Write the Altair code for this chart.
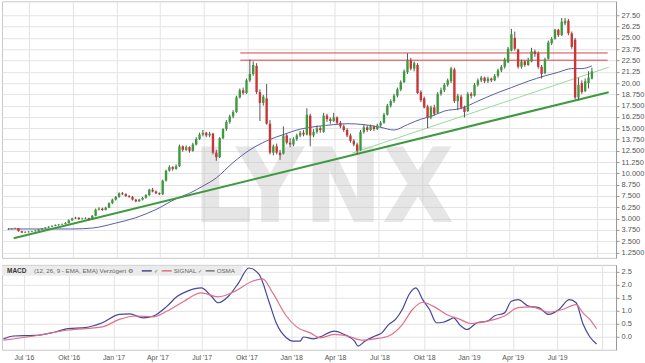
import altair as alt
import pandas as pd

# ---------------- data (weekly candles) ----------------
first_week = "2016-05-20"

open_ = [3.8, 3.85, 3.9, 3.95, 3.6, 3.45, 3.5, 3.55, 3.6, 3.65,
         3.8, 3.9, 4.0, 4.1, 4.2, 4.3, 4.35, 4.4, 4.5, 4.8,
         5.0, 5.1, 4.95, 5.0, 5.05, 4.9, 5.3, 6.0, 6.1, 5.95,
         6.2, 6.7, 7.1, 7.4, 7.8, 7.7, 7.5, 7.4, 7.1, 6.9,
         7.1, 7.3, 7.6, 8.2, 8.0, 7.8, 7.7, 9.2, 10.3, 10.7,
         10.5, 10.8, 13.0, 12.6, 12.9, 12.5, 13.2, 13.8, 14.3, 14.5,
         14.2, 14.4, 12.3, 11.8, 13.9, 14.9, 15.7, 16.3, 16.8, 18.4,
         19.2, 18.9, 20.3, 21.0, 21.9, 19.0, 17.8, 18.3, 15.5, 12.3,
         13.0, 12.3, 12.2, 14.2, 13.4, 13.2, 13.8, 14.2, 14.5, 14.3,
         16.4, 14.2, 14.6, 15.0, 14.6, 16.4, 16.0, 15.8, 16.2, 15.6,
         15.2, 14.8, 14.2, 13.6, 13.2, 12.6, 14.6, 15.1, 14.8, 15.2,
         14.9, 15.3, 15.6, 16.5, 17.5, 18.0, 18.6, 19.3, 20.1, 21.2,
         22.5, 21.6, 22.0, 19.0, 18.3, 17.4, 16.2, 17.3, 16.7, 18.8,
         19.2, 19.8, 20.2, 21.5, 18.0, 18.5, 17.3, 16.9, 18.8, 18.6,
         19.8, 20.3, 20.6, 20.2, 20.5, 20.3, 20.8, 21.4, 21.8, 22.3,
         23.6, 25.0, 23.7, 21.8, 22.4, 22.0, 22.4, 23.5, 23.3, 21.8,
         21.1, 22.7, 24.4, 24.9, 25.9, 25.3, 26.6, 26.9, 25.5, 24.8,
         18.4, 20.0, 19.1, 20.0, 20.5]

high = [3.95, 3.95, 4.0, 3.95, 3.65, 3.6, 3.6, 3.65, 3.75, 3.85,
        3.95, 4.05, 4.15, 4.25, 4.35, 4.4, 4.45, 4.6, 4.9, 5.1,
        5.2, 5.15, 5.1, 5.15, 5.1, 5.4, 6.1, 6.25, 6.2, 6.3,
        6.8, 7.2, 7.5, 7.9, 7.95, 7.8, 7.6, 7.5, 7.2, 7.2,
        7.4, 7.7, 8.3, 8.4, 8.1, 7.9, 9.3, 10.4, 10.9, 10.8,
        11.0, 13.2, 13.1, 13.1, 13.0, 13.4, 14.0, 14.5, 14.8, 14.6,
        14.6, 14.5, 12.6, 14.0, 15.0, 15.9, 16.5, 17.0, 18.6, 19.4,
        19.5, 20.5, 22.6, 22.4, 22.2, 19.3, 18.7, 19.9, 15.9, 13.2,
        13.3, 12.6, 15.2, 14.4, 13.9, 14.0, 14.4, 14.7, 14.8, 17.2,
        16.6, 14.9, 15.3, 15.2, 16.7, 16.6, 16.2, 16.7, 16.3, 15.8,
        15.4, 15.0, 14.4, 13.8, 13.4, 14.8, 15.4, 15.3, 15.4, 15.3,
        15.5, 15.8, 16.7, 17.7, 18.2, 18.8, 19.5, 20.3, 21.5, 23.3,
        22.8, 22.4, 22.2, 19.2, 18.5, 17.6, 17.5, 17.6, 19.0, 19.5,
        20.0, 20.5, 21.8, 21.7, 18.8, 18.7, 17.5, 19.0, 19.0, 20.0,
        20.5, 20.8, 20.7, 20.7, 20.6, 21.0, 21.6, 22.0, 22.8, 24.0,
        26.0, 25.7, 23.8, 22.6, 22.5, 22.8, 23.9, 23.7, 23.5, 22.0,
        22.8, 24.7, 25.1, 26.0, 26.0, 27.2, 27.2, 27.1, 25.7, 25.0,
        20.6, 20.3, 20.5, 21.3, 21.7]

low = [3.75, 3.8, 3.85, 3.55, 3.4, 3.4, 3.45, 3.5, 3.55, 3.6,
       3.75, 3.85, 3.95, 4.05, 4.15, 4.2, 4.3, 4.35, 4.45, 4.75,
       4.95, 4.85, 4.9, 4.95, 4.8, 4.85, 5.25, 5.9, 5.85, 5.9,
       6.15, 6.6, 7.0, 7.3, 7.6, 7.4, 7.3, 7.0, 6.8, 6.85,
       7.0, 7.2, 7.5, 7.9, 7.7, 7.6, 7.6, 9.1, 10.2, 10.3,
       10.4, 10.7, 12.4, 12.5, 12.3, 12.4, 13.1, 13.7, 14.1, 14.0,
       14.0, 12.1, 11.4, 11.7, 13.8, 14.7, 15.5, 16.1, 16.7, 18.3,
       18.7, 18.8, 20.1, 20.8, 18.8, 15.8, 17.5, 15.4, 12.1, 12.0,
       12.1, 11.5, 12.1, 13.2, 12.9, 13.0, 13.6, 14.0, 14.1, 14.2,
       13.0, 14.0, 14.4, 14.5, 14.5, 15.7, 15.5, 15.7, 15.4, 15.0,
       14.6, 14.0, 13.4, 13.0, 12.1, 12.5, 14.4, 14.6, 14.7, 14.7,
       14.8, 15.1, 15.5, 16.4, 17.3, 17.8, 18.4, 19.1, 20.0, 21.0,
       21.4, 21.3, 18.8, 17.9, 17.2, 15.0, 16.0, 16.4, 16.6, 18.6,
       19.0, 19.6, 20.0, 17.8, 17.0, 17.1, 16.2, 16.8, 18.3, 18.5,
       19.6, 20.1, 20.0, 20.0, 20.1, 20.2, 20.6, 21.2, 21.6, 22.2,
       23.5, 23.6, 21.6, 21.6, 21.8, 21.9, 22.3, 22.9, 21.6, 20.5,
       21.0, 22.6, 24.2, 24.8, 25.1, 25.2, 26.4, 25.3, 23.8, 18.2,
       18.1, 18.8, 19.0, 19.4, 20.4]

close = [3.85, 3.9, 3.95, 3.6, 3.45, 3.5, 3.55, 3.6, 3.65, 3.8,
         3.9, 4.0, 4.1, 4.2, 4.3, 4.35, 4.4, 4.5, 4.8, 5.0,
         5.1, 4.95, 5.0, 5.05, 4.9, 5.3, 6.0, 6.1, 5.95, 6.2,
         6.7, 7.1, 7.4, 7.8, 7.7, 7.5, 7.4, 7.1, 6.9, 7.1,
         7.3, 7.6, 8.2, 8.0, 7.8, 7.7, 9.2, 10.3, 10.7, 10.5,
         10.8, 13.0, 12.6, 12.9, 12.5, 13.2, 13.8, 14.3, 14.5, 14.2,
         14.4, 12.3, 11.8, 13.9, 14.9, 15.7, 16.3, 16.8, 18.4, 19.2,
         18.9, 20.3, 21.0, 22.0, 19.0, 17.8, 18.5, 15.5, 12.3, 13.0,
         12.3, 12.0, 14.2, 13.4, 13.2, 13.8, 14.2, 14.5, 14.3, 16.5,
         14.2, 14.6, 15.0, 14.8, 16.4, 16.0, 15.8, 16.2, 15.6, 15.2,
         14.8, 14.2, 13.6, 13.2, 12.5, 14.6, 15.1, 14.8, 15.2, 14.9,
         15.3, 15.6, 16.5, 17.5, 18.0, 18.6, 19.3, 20.1, 21.3, 22.5,
         21.6, 22.2, 18.9, 18.1, 17.3, 16.2, 17.3, 16.6, 18.8, 19.2,
         19.8, 20.3, 21.6, 18.0, 18.6, 17.3, 16.8, 18.8, 18.6, 19.8,
         20.3, 20.6, 20.2, 20.5, 20.3, 20.8, 21.4, 21.8, 22.6, 23.8,
         25.4, 23.8, 21.8, 22.4, 22.0, 22.5, 23.5, 23.2, 21.8, 21.0,
         22.6, 24.5, 24.9, 25.9, 25.3, 26.8, 26.9, 25.5, 24.0, 18.4,
         19.8, 19.0, 20.2, 20.6, 21.3]

# moving average (blue) : candle index -> value
ma_idx = [0, 19, 25, 32, 38, 44, 50, 54, 58, 62, 67, 72, 77, 82, 87, 92, 97, 101,
          106, 111, 115, 119, 123, 126, 130, 135, 140, 145, 150, 155, 160, 164, 168, 171, 174]
ma_val = [3.85, 3.85, 3.95, 4.5, 5.1, 6.0, 7.2, 7.8, 8.6, 9.5, 11.2, 12.6, 13.6, 14.3, 14.9,
          15.2, 15.4, 15.5, 15.4, 15.1, 14.8, 15.4, 16.0, 16.3, 16.9, 17.2, 18.0, 18.8, 19.5,
          20.2, 20.8, 21.2, 21.6, 21.6, 21.9]

# trend lines and resistance lines (start/end)
trend_thick_dates = ["2016-05-31", "2019-10-25"]
trend_thick_vals = [2.83, 18.99]
trend_thin_dates = ["2018-05-08", "2019-10-25"]
trend_thin_vals = [12.25, 21.75]
resist_dates = ["2017-09-16", "2019-10-23"]
resist_upper = 23.33
resist_lower = 22.53

# MACD (blue) and signal (red): candle index -> value
macd_idx = [0, 3, 9, 14, 19, 24, 29, 34, 37, 41, 44, 48, 51, 54, 58, 61, 63, 66, 69, 72,
            75, 78, 80, 83, 85, 87, 88, 91, 93, 96, 97, 100, 103, 104, 106, 109, 111, 113, 115, 117,
            119, 121, 123, 125, 127, 129, 131, 132, 134, 136, 139, 142, 144, 147, 149, 151, 154, 157, 160, 163,
            166, 168, 170, 172, 174]
macd_val = [-0.08, 0.03, 0.05, 0.15, 0.31, 0.35, 0.54, 0.86, 0.88, 0.73, 0.8, 1.18, 1.56, 1.76, 1.88, 1.56, 1.31, 1.56, 2.08, 2.65,
            2.4, 1.31, 0.54, -0.04, -0.17, -0.17, -0.01, -0.08, 0.0, 0.19, 0.22, 0.09, -0.17, -0.36, -0.17, 0.03, 0.15, 0.47, 0.67, 1.05,
            1.63, 1.88, 1.43, 1.05, 0.54, 0.56, 0.67, 0.73, 0.44, 0.28, 0.54, 0.6, 0.8, 0.92, 1.37, 1.43, 1.18, 1.12, 0.86, 1.05,
            1.43, 1.31, 0.5, 0.0, -0.28]
sig_idx = [0, 9, 19, 29, 34, 39, 44, 48, 53, 58, 63, 68, 73, 76, 79, 83, 86, 90, 93, 97,
           101, 105, 109, 113, 117, 120, 123, 126, 130, 134, 137, 142, 147, 151, 155, 160, 164, 168, 170, 172, 174]
sig_val = [-0.13, 0.03, 0.26, 0.38, 0.67, 0.8, 0.77, 0.99, 1.37, 1.69, 1.54, 1.76, 2.14, 2.23, 1.69, 0.8, 0.38, 0.15, -0.04, 0.09,
           0.03, -0.13, -0.08, 0.03, 0.47, 1.05, 1.33, 1.18, 0.86, 0.67, 0.51, 0.6, 0.8, 1.12, 1.15, 0.95, 1.05, 1.24, 0.92, 0.67, 0.31]

# axis ticks
quarter_ticks = ["2016-07-01", "2016-10-01", "2017-01-01", "2017-04-01", "2017-07-01",
                 "2017-10-01", "2018-01-01", "2018-04-01", "2018-07-01", "2018-10-01",
                 "2019-01-01", "2019-04-01", "2019-07-01", "2019-10-01"]
price_ticks = [1.25, 2.5, 3.75, 5.0, 6.25, 7.5, 8.75, 10.0, 11.25, 12.5, 13.75, 15.0,
               16.25, 17.5, 18.75, 20.0, 21.25, 22.5, 23.75, 25.0, 26.25, 27.5]
macd_ticks = [0.0, 0.5, 1.0, 1.5, 2.0, 2.5]

# ---------------- frames ----------------
weeks = pd.date_range(first_week, periods=len(close), freq="7D")
candles = pd.DataFrame({"date": weeks, "open": open_, "high": high, "low": low, "close": close})
ma_df = pd.DataFrame({"date": weeks[ma_idx], "value": ma_val})
thick_df = pd.DataFrame({"date": pd.to_datetime(trend_thick_dates), "value": trend_thick_vals})
thin_df = pd.DataFrame({"date": pd.to_datetime(trend_thin_dates), "value": trend_thin_vals})
res_df = pd.DataFrame({
    "date": list(pd.to_datetime(resist_dates)) * 2,
    "value": [resist_upper, resist_upper, resist_lower, resist_lower],
    "line": ["u", "u", "l", "l"],
})
macd_df = pd.DataFrame({"date": weeks[macd_idx], "value": macd_val})
sig_df = pd.DataFrame({"date": weeks[sig_idx], "value": sig_val})
one = pd.DataFrame({"t": ["LYNX"]})


def dt(s):
    y, m, d = s.split("-")
    return alt.DateTime(year=int(y), month=int(m), date=int(d))


x_scale = alt.Scale(domain=[dt("2016-05-17"), dt("2019-10-30")])
q_vals = [dt(s) for s in quarter_ticks]
GRID = "#e3e3e3"
FONT = "Liberation Sans"

x_top = alt.X("date:T", scale=x_scale, title=None,
              axis=alt.Axis(values=q_vals, grid=True, gridColor=GRID, labels=False,
                            ticks=False, domain=False, title=None))

month_expr = ("(year(datum.value) == 2019 && month(datum.value) == 9) ? '' : "
              "['Jan','Feb','Mär','Apr','Mai','Jun','Jul','Aug','Sep','Okt','Nov','Dez'][month(datum.value)]"
              " + \" '\" + timeFormat(datum.value, '%y')")
x_bot = alt.X("date:T", scale=x_scale, title=None,
              axis=alt.Axis(values=q_vals, grid=True, gridColor=GRID, labelExpr=month_expr,
                            ticks=False, domain=False, labelFontSize=7, labelColor="#555",
                            labelPadding=4, labelFlush=False, labelOverlap=False, title=None))

y_scale_top = alt.Scale(domain=[0.65, 29.05], nice=False, zero=False)
price_label = ("datum.value >= 19.9 ? format(datum.value, '.2f') : "
               "(datum.value >= 2 ? format(datum.value, '.3f') : format(datum.value, '.4f'))")
y_axis_top = alt.Axis(orient="right", values=price_ticks, labelExpr=price_label, grid=True,
                      gridColor=GRID, tickSize=3, tickColor="#999", domainColor="#999",
                      labelFontSize=7.5, labelColor="#555", labelPadding=2,
                      labelOverlap=False, labelFlush=False, title=None)


def yt(field):
    return alt.Y(field, scale=y_scale_top, axis=y_axis_top, title=None)


watermark = alt.Chart(one).mark_text(
    fontSize=104, fontWeight="bold", color="#c4c4c4", opacity=0.42,
    font="Liberation Sans Narrow, DejaVu Sans Condensed, Roboto Condensed, Liberation Sans",
    align="center", baseline="alphabetic"
).encode(x=alt.value(322), y=alt.value(221), text="t:N")

ma_line = alt.Chart(ma_df).mark_line(color="#5a5ca8", strokeWidth=1, interpolate="monotone").encode(
    x=x_top, y=yt("value:Q"))
res_lines = alt.Chart(res_df).mark_line(color="#dd4048", strokeWidth=1).encode(
    x=x_top, y=yt("value:Q"), detail="line:N")
thin_line = alt.Chart(thin_df).mark_line(color="#9ad89a", strokeWidth=1).encode(
    x=x_top, y=yt("value:Q"))
thick_line = alt.Chart(thick_df).mark_line(color="#3f9a3f", strokeWidth=2).encode(
    x=x_top, y=yt("value:Q"))

candle_color = alt.condition("datum.close >= datum.open", alt.value("#3c9c3c"), alt.value("#cc3535"))
wicks = alt.Chart(candles).mark_rule(strokeWidth=1, color="#555").encode(
    x=x_top, y=yt("low:Q"), y2="high:Q")
bodies = alt.Chart(candles).mark_bar(size=2.4).encode(
    x=x_top, y=yt("open:Q"), y2="close:Q", color=candle_color)

top = alt.layer(watermark, ma_line, res_lines, thin_line, thick_line, wicks, bodies).properties(
    width=615, height=257)

# ---------------- MACD panel ----------------
y_scale_bot = alt.Scale(domain=[-0.5, 2.77], nice=False, zero=False)
y_axis_bot = alt.Axis(orient="right", values=macd_ticks, format=".1f", grid=True, gridColor=GRID,
                      tickSize=3, tickColor="#999", domainColor="#999", labelFontSize=7.5,
                      labelColor="#555", labelPadding=2, labelOverlap=False, labelFlush=False, title=None)


def yb(field):
    return alt.Y(field, scale=y_scale_bot, axis=y_axis_bot, title=None)


band = alt.Chart(one).mark_rect(color="#ebebeb").encode(
    x=alt.value(0), x2=alt.value(241), y=alt.value(1), y2=alt.value(11))
macd_line = alt.Chart(macd_df).mark_line(color="#45479a", strokeWidth=1.2, interpolate="monotone").encode(
    x=x_bot, y=yb("value:Q"))
sig_line = alt.Chart(sig_df).mark_line(color="#e0708a", strokeWidth=1.2, interpolate="monotone").encode(
    x=x_bot, y=yb("value:Q"))


def label(txt, xpos, bold=False, color="#666", size=6.2):
    return alt.Chart(one).mark_text(
        text=txt, font=FONT, fontSize=size, fontWeight="bold" if bold else "normal",
        color=color, align="left", baseline="middle"
    ).encode(x=alt.value(xpos), y=alt.value(6.2))


def swatch(x1, x2, color):
    return alt.Chart(one).mark_rule(color=color, strokeWidth=1.5).encode(
        x=alt.value(x1), x2=alt.value(x2), y=alt.value(6))


legend_layers = [
    label("MACD", 5, bold=True, color="#333", size=6.5),
    label("(12, 26, 9 - EMA, EMA) Verzögert ⚙", 32),
    swatch(140, 150, "#45479a"), label("✓", 152, size=5.5),
    swatch(160, 170, "#e0708a"), label("SIGNAL", 172),
    label("✓", 196, size=5.5),
    swatch(204, 213, "#777777"), label("OSMA", 215),
]

bottom = alt.layer(band, macd_line, sig_line, *legend_layers).properties(width=615, height=85)

chart = alt.vconcat(top, bottom, spacing=5).properties(
    padding={"left": 0, "top": 0, "right": 0, "bottom": 0},
    background="white",
).configure_view(stroke="#c8c8c8", strokeWidth=1).configure_axis(labelFont=FONT)

chart.save("out.html", embed_options={"renderer": "svg", "actions": False})
